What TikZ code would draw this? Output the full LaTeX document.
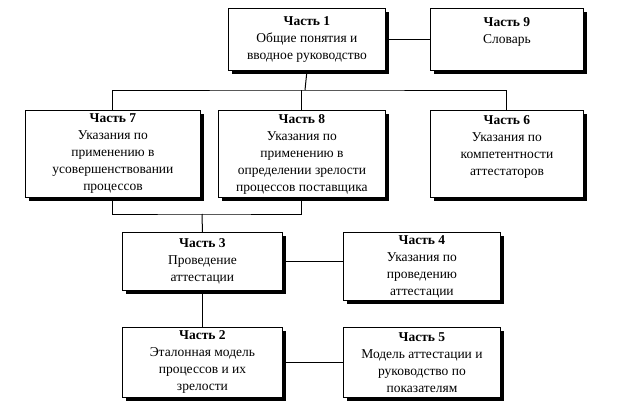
\documentclass[tikz,border=0pt]{standalone}
\usepackage{fontspec}
\setmainfont{Liberation Serif}
\usetikzlibrary{shadows}
\begin{document}
\begin{tikzpicture}[x=1pt,y=-1pt,
  part/.style={draw,line width=0.9pt,fill=white,align=center,font=\fontsize{13.5}{17}\selectfont,
    drop shadow={shadow xshift=4pt,shadow yshift=-4pt,opacity=1,fill=black},
    inner sep=0pt,anchor=north west},
  conn/.style={line width=1pt}]
\useasboundingbox (0,0) rectangle (625,407);
\newcommand{\pbox}[6]{\node[part,minimum width=#3pt,minimum height=#4pt] (#1) at (#2) {\textbf{#5}\\#6};}
\pbox{p1}{228,8}{157}{62}{Часть 1}{Общие понятия и\\вводное руководство}
\pbox{p9}{430,8}{153}{62}{Часть 9}{Словарь\\\mbox{}}
\pbox{p7}{25,110}{175}{87}{Часть 7}{Указания по\\применению в\\усовершенствовании\\процессов}
\pbox{p8}{218,110}{167}{87}{Часть 8}{Указания по\\применению в\\определении зрелости\\процессов поставщика}
\pbox{p6}{430,110}{153}{87}{Часть 6}{Указания по\\компетентности\\аттестаторов\\\mbox{}}
\pbox{p3}{122,232}{160}{58}{Часть 3}{Проведение\\аттестации}
\pbox{p4}{343,232}{157}{68}{Часть 4}{Указания по\\проведению\\аттестации}
\pbox{p2}{122,327}{160}{70}{Часть 2}{Эталонная модель\\процессов и их\\зрелости}
\pbox{p5}{343,327}{157}{70}{Часть 5}{Модель аттестации и\\руководство по\\показателям}
\coordinate (bus) at (305,90);
\coordinate (low) at (202,214);
\draw[conn] (p1.east) -- (p9.west);
\draw[conn] (p1.south) -- (bus);
\draw[conn] (p7.north) |- (bus) -| (p6.north);
\draw[conn] (bus -| p8.north) -- (p8.north);
\draw[conn] (p7.south) |- (low) -| (p8.south);
\draw[conn] (low) -- (p3.north);
\draw[conn] (p3.east) -- (p3.east -| p4.west);
\draw[conn] (p3.south) -- (p2.north);
\draw[conn] (p2.east) -- (p2.east -| p5.west);
\end{tikzpicture}
\end{document}
